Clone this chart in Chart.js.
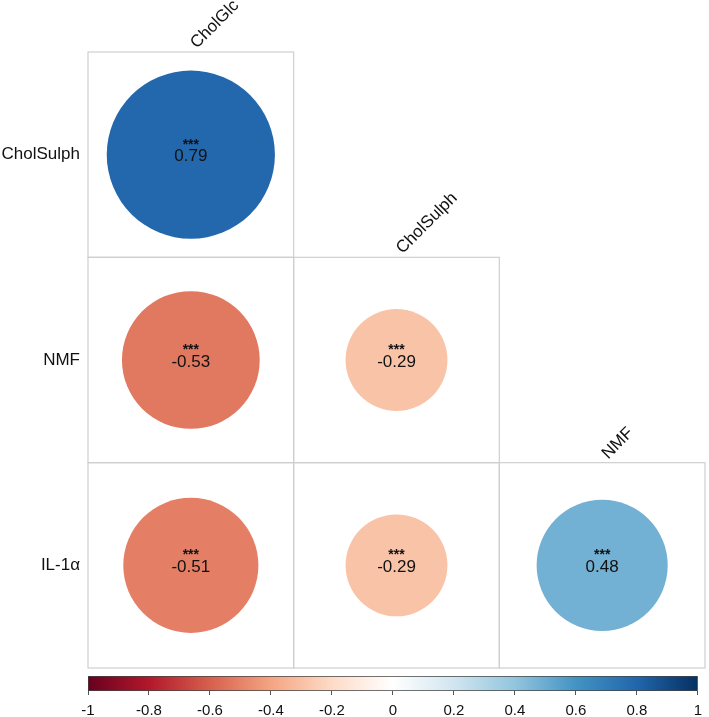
<!DOCTYPE html>
<html>
<head>
<meta charset="utf-8">
<script src="https://cdn.jsdelivr.net/npm/chart.js@4"></script>
<style>
  html, body { margin:0; padding:0; background:#fff; overflow:hidden; width:709px; height:717px; }
  #main { position:absolute; left:0; top:0; }
  #bar { position:absolute; left:0; top:670px; }
</style>
</head>
<body>
<canvas id="main" width="709" height="672"></canvas>
<canvas id="bar" width="709" height="50"></canvas>
<script>
// ---- data ----
const columns = ['CholGlc', 'CholSulph', 'NMF'];
const rows = ['CholSulph', 'NMF', 'IL-1α'];
const corrCholSulph = [0.79];
const corrNMF = [-0.53, -0.29];
const corrIL1a = [-0.51, -0.29, 0.48];
const signifCholSulph = ['***'];
const signifNMF = ['***', '***'];
const signifIL1a = ['***', '***', '***'];
const colorbarTicks = [-1, -0.8, -0.6, -0.4, -0.2, 0, 0.2, 0.4, 0.6, 0.8, 1];

// RdBu palette (corrplot COL2)
const paletteStops = ['#67001F','#B2182B','#D6604D','#F4A582','#FDDBC7','#FFFFFF','#D1E5F0','#92C5DE','#4393C3','#2166AC','#053061'];

function hexToRgb(h) { return [parseInt(h.slice(1,3),16), parseInt(h.slice(3,5),16), parseInt(h.slice(5,7),16)]; }
function corrColor(v) {
  const p = (v + 1) / 2 * (paletteStops.length - 1);
  const i = Math.min(Math.floor(p), paletteStops.length - 2);
  const t = p - i;
  const a = hexToRgb(paletteStops[i]), b = hexToRgb(paletteStops[i+1]);
  const c = a.map((x, k) => Math.round(x + (b[k] - x) * t));
  return 'rgb(' + c.join(',') + ')';
}

const FONT = '"Liberation Sans", Arial, sans-serif';
const corrRows = [corrCholSulph, corrNMF, corrIL1a];
const signifRows = [signifCholSulph, signifNMF, signifIL1a];
const points = [];
corrRows.forEach((vals, r) => vals.forEach((v, c) => points.push({ x: c + 0.5, y: r + 0.5, v: v, s: signifRows[r][c], row: r, col: c })));

function circleRadius(ctx) {
  const p = ctx.raw; const xs = ctx.chart.scales.x;
  if (!p || !xs) return 0;
  const cell = xs.getPixelForValue(1) - xs.getPixelForValue(0);
  return Math.sqrt(Math.abs(p.v)) * 0.46 * cell;
}

const cellPlugin = {
  id: 'cells',
  beforeDatasetsDraw(chart) {
    const { ctx, scales: { x, y } } = chart;
    ctx.save();
    ctx.strokeStyle = '#cfcfcf';
    ctx.lineWidth = 1.2;
    points.forEach(p => {
      const x0 = x.getPixelForValue(p.col), x1 = x.getPixelForValue(p.col + 1);
      const y0 = y.getPixelForValue(p.row), y1 = y.getPixelForValue(p.row + 1);
      ctx.strokeRect(x0, y0, x1 - x0, y1 - y0);
    });
    // rotated column labels
    ctx.fillStyle = '#111';
    ctx.font = '17px ' + FONT;
    ctx.textAlign = 'left';
    ctx.textBaseline = 'alphabetic';
    columns.forEach((name, j) => {
      const cx = x.getPixelForValue(j + 0.5);
      const top = y.getPixelForValue(j);
      ctx.save();
      ctx.translate(cx + 6, top - 3);
      ctx.rotate(-Math.PI / 4);
      ctx.fillText(name, 0, 0);
      ctx.restore();
    });
    ctx.restore();
  },
  afterDatasetsDraw(chart) {
    const { ctx } = chart;
    const meta = chart.getDatasetMeta(0);
    ctx.save();
    ctx.fillStyle = '#111';
    ctx.textAlign = 'center';
    ctx.textBaseline = 'middle';
    meta.data.forEach((el, i) => {
      const p = points[i];
      ctx.font = 'bold 14px ' + FONT;
      ctx.fillText(p.s, el.x, el.y - 10);
      ctx.font = '17px ' + FONT;
      ctx.fillText(p.v.toFixed(2), el.x, el.y + 2);
    });
    ctx.restore();
  }
};

new Chart(document.getElementById('main'), {
  type: 'scatter',
  data: {
    datasets: [{
      data: points,
      pointRadius: circleRadius,
      pointHoverRadius: circleRadius,
      backgroundColor: (ctx) => ctx.raw ? corrColor(ctx.raw.v) : '#fff',
      borderWidth: 0,
      pointBorderWidth: 0
    }]
  },
  options: {
    responsive: false,
    animation: false,
    events: [],
    layout: { padding: { left: 0, top: 52, right: 4, bottom: 4 } },
    plugins: { legend: { display: false }, tooltip: { enabled: false } },
    scales: {
      x: { type: 'linear', min: 0, max: 3, display: false },
      y: {
        type: 'linear', min: 0, max: 3, reverse: true,
        afterBuildTicks: (s) => { s.ticks = rows.map((_, i) => ({ value: i + 0.5 })); },
        afterFit: (s) => { s.width = 88; s.paddingTop = 0; s.paddingBottom = 0; },
        grid: { display: false, drawTicks: false },
        border: { display: false },
        ticks: {
          padding: 8,
          color: '#111',
          font: { family: FONT, size: 17 },
          callback: (v) => rows[Math.round(v - 0.5)]
        }
      }
    }
  },
  plugins: [cellPlugin]
});

// ---- colour bar ----
new Chart(document.getElementById('bar'), {
  type: 'bar',
  data: {
    labels: ['r'],
    datasets: [{
      data: [[-1, 1]],
      backgroundColor: (ctx) => {
        const ch = ctx.chart; const xs = ch.scales.x;
        if (!ch.chartArea || !xs) return '#fff';
        const g = ch.ctx.createLinearGradient(xs.getPixelForValue(-1), 0, xs.getPixelForValue(1), 0);
        paletteStops.forEach((c, i) => g.addColorStop(i / (paletteStops.length - 1), c));
        return g;
      },
      borderColor: '#444',
      borderWidth: 1,
      borderSkipped: false,
      barPercentage: 1,
      categoryPercentage: 1
    }]
  },
  options: {
    indexAxis: 'y',
    responsive: false,
    animation: false,
    events: [],
    layout: { padding: { left: 88, top: 6, right: 4, bottom: 0 } },
    plugins: { legend: { display: false }, tooltip: { enabled: false } },
    scales: {
      y: { display: false },
      x: {
        type: 'linear', min: -1, max: 1,
        afterBuildTicks: (s) => { s.ticks = colorbarTicks.map(v => ({ value: v })); },
        afterFit: (s) => { s.height = 29; },
        grid: { drawOnChartArea: false, drawTicks: true, tickLength: 4, color: '#555' },
        border: { display: false },
        ticks: {
          padding: 7,
          maxRotation: 0,
          autoSkip: false,
          color: '#111',
          font: { family: FONT, size: 15 },
          callback: (v) => String(+(+v).toFixed(1))
        }
      }
    }
  }
});
</script>
</body>
</html>
